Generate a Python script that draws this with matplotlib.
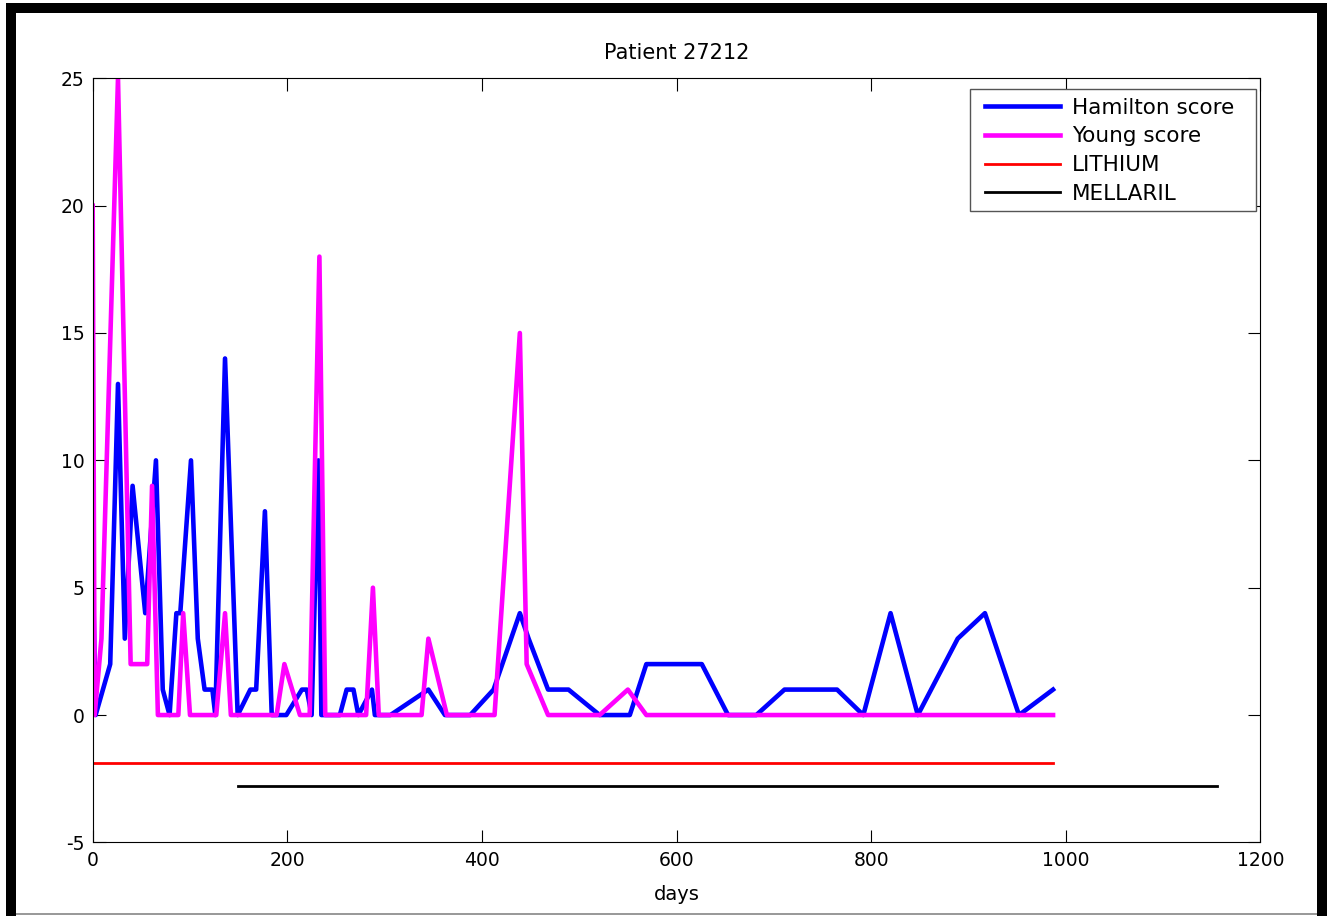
import matplotlib
matplotlib.use('Agg')
import matplotlib.pyplot as plt
from matplotlib.patches import Rectangle

# Rating scores per visit (days since first visit)
hamilton_days = [0, 3, 18, 26, 33, 41, 54, 65, 72, 79, 86, 90, 101, 108, 115, 123, 126,
                 136, 149, 162, 168, 177, 184, 199, 215, 220, 225, 232, 235, 254, 261,
                 268, 273, 287, 290, 306, 345, 362, 388, 412, 439, 448, 468, 489, 521,
                 552, 569, 626, 653, 682, 711, 765, 792, 820, 848, 889, 917, 952, 987]
hamilton_score = [6, 0, 2, 13, 3, 9, 4, 10, 1, 0, 4, 4, 10, 3, 1, 1, 0,
                  14, 0, 1, 1, 8, 0, 0, 1, 1, 0, 10, 0, 0, 1,
                  1, 0, 1, 0, 0, 1, 0, 0, 1, 4, 3, 1, 1, 0,
                  0, 2, 2, 0, 0, 1, 1, 0, 4, 0, 3, 4, 0, 1]

young_days = [0, 2, 9, 26, 39, 56, 61, 67, 88, 93, 100, 127, 136, 142, 189, 197, 213,
              223, 233, 239, 281, 288, 294, 338, 345, 364, 413, 439, 446, 468, 521,
              550, 569, 987]
young_score = [20, 0, 3, 25, 2, 2, 9, 0, 0, 4, 0, 0, 4, 0, 0, 2, 0,
               0, 18, 0, 0, 5, 0, 0, 3, 0, 0, 15, 2, 0, 0,
               1, 0, 0]

# Medication periods, drawn as bars below the scores
lithium_days = [0, 987]
lithium_level = [-1.9, -1.9]
mellaril_days = [149, 1156]
mellaril_level = [-2.8, -2.8]

plt.rcParams['font.family'] = ['DejaVu Sans']
plt.rcParams['axes.unicode_minus'] = False

W, H = 1328, 916
fig = plt.figure(figsize=(W / 100, H / 100), dpi=100)
fig.patch.set_facecolor('white')

def px_rect(x0, y0, x1, y1, **kw):
    # rectangle given in pixels from the top-left corner of the figure
    return Rectangle((x0 / W, 1 - y1 / H), (x1 - x0) / W, (y1 - y0) / H,
                     transform=fig.transFigure, **kw)

# window frame
for box in [(6, 3, 16, 916), (6, 3, 1327, 13), (1317, 3, 1327, 916)]:
    fig.patches.append(px_rect(*box, facecolor='black', edgecolor='none', zorder=10))
fig.patches.append(px_rect(16, 913, 1317, 915, facecolor='#9a9a9a', edgecolor='none', zorder=10))

left, right, top, bottom = 92.7, 1260.3, 78.3, 842.4
ax = fig.add_axes([left / W, 1 - bottom / H, (right - left) / W, (bottom - top) / H])

ax.plot(hamilton_days, hamilton_score, color=(0, 0, 1), lw=3.3, label='Hamilton score')
ax.plot(young_days, young_score, color=(1, 0, 1), lw=3.3, label='Young score')
ax.plot(lithium_days, lithium_level, color=(1, 0, 0), lw=2, label='LITHIUM')
ax.plot(mellaril_days, mellaril_level, color='black', lw=2, label='MELLARIL')

ax.set_xlim(0, 1200)
ax.set_ylim(-5, 25)
ax.set_xticks(range(0, 1201, 200))
ax.set_yticks(range(-5, 26, 5))
ax.tick_params(direction='in', length=9, width=0.8, top=True, right=True, labelsize=13.5, pad=6)
for s in ax.spines.values():
    s.set_linewidth(0.8)

ax.set_title('Patient 27212', fontsize=15, pad=14)
ax.set_xlabel('days', fontsize=14, labelpad=11)

# legend box drawn separately so it can be wider than its entries
legbox = px_rect(970, 89.3, 1256, 211, facecolor='white', edgecolor='#555555',
                 linewidth=1.0, zorder=4.5)
ax.add_artist(legbox)
legbox.set_clip_on(False)

lx = (985 - left) / (right - left)
ly = 1 - (97.5 - top) / (bottom - top)
leg = ax.legend(loc='upper left', bbox_to_anchor=(lx, ly), frameon=False,
                borderaxespad=0, borderpad=0, handlelength=3.5,
                handletextpad=0.54, labelspacing=0.41, fontsize=15.5)

fig.savefig('out.png', dpi=100)
